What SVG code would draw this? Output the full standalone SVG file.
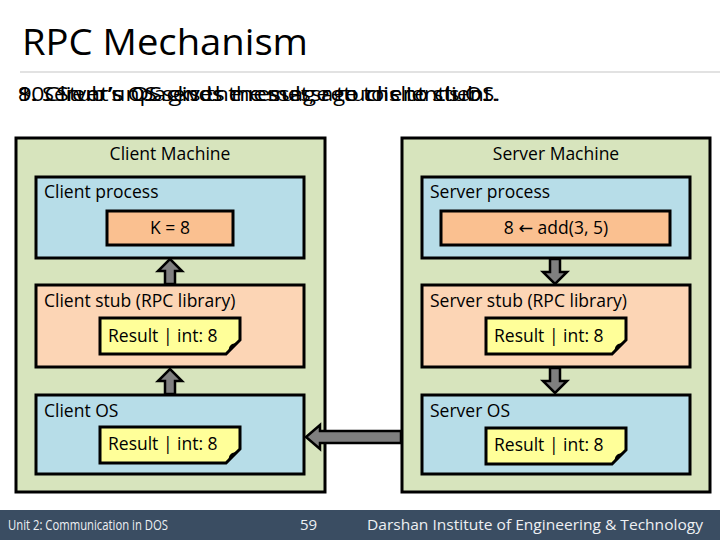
<svg xmlns="http://www.w3.org/2000/svg" width="720" height="540" viewBox="0 0 720 540">
<defs>
<style>
.t{font-family:"Open Sans","Liberation Sans",sans-serif;fill:#000}
.machine{fill:#d7e4bd;stroke:#000;stroke-width:3}
.blue{fill:#b7dde8;stroke:#000;stroke-width:3}
.peach{fill:#fcd5b5;stroke:#000;stroke-width:3}
.orange{fill:#fac090;stroke:#000;stroke-width:3}
.note{fill:#ffff99;stroke:#000;stroke-width:3;stroke-linejoin:miter}
.fold{fill:#000}
.arrow{fill:#7f7f7f;stroke:#000;stroke-width:2.5;stroke-linejoin:miter}
.lbl{font-size:17.5px}
.foot{font-family:"Open Sans","Liberation Sans",sans-serif;fill:#eef0f3;font-size:15px}
</style>
</defs>
<rect x="0" y="0" width="720" height="540" fill="#fff"/>
<text class="t" x="22" y="55" font-size="36" textLength="286" lengthAdjust="spacingAndGlyphs">RPC Mechanism</text>
<line x1="20" y1="72" x2="720" y2="72" stroke="#d9d9d9" stroke-width="1.5"/>
<g id="steps" class="t" font-size="20">
<text x="18" y="101" textLength="482" lengthAdjust="spacingAndGlyphs">8.   Server’s OS sends the message to client’s OS.</text>
<text x="18" y="101" textLength="470" lengthAdjust="spacingAndGlyphs">9.   Client’s OS gives message to client stub.</text>
<text x="18" y="101" textLength="480" lengthAdjust="spacingAndGlyphs">10. Stub unpacks the result, returns to client.</text>
</g>
<g id="client-machine">
<rect class="machine" x="16" y="138" width="309" height="354"/>
<text class="t lbl" x="170" y="160" text-anchor="middle">Client Machine</text>
</g>
<g id="server-machine">
<rect class="machine" x="402" y="138" width="308" height="354"/>
<text class="t lbl" x="556" y="160" text-anchor="middle">Server Machine</text>
</g>
<g id="client-process">
<rect class="blue" x="36" y="177" width="268" height="81"/>
<text class="t lbl" x="44" y="198">Client process</text>
</g>
<g id="client-k">
<rect class="orange" x="107" y="211" width="126" height="34"/>
<text class="t lbl" x="170" y="234" text-anchor="middle">K = 8</text>
</g>
<g id="client-stub">
<rect class="peach" x="36" y="285" width="268" height="82"/>
<text class="t lbl" x="44" y="307">Client stub (RPC library)</text>
</g>
<g id="client-stub-note">
<path class="note" d="M100,318 H240 V340 L226,354 H100 Z"/>
<path class="fold" d="M226,354 L240,340 C236,344 232,343 230,346 C228,348 230,351 226,354 Z"/>
<text class="t lbl" x="108" y="342">Result | int: 8</text>
</g>
<g id="client-os">
<rect class="blue" x="36" y="395" width="268" height="79"/>
<text class="t lbl" x="44" y="417">Client OS</text>
</g>
<g id="client-os-note">
<path class="note" d="M100,427 H240 V449 L226,463 H100 Z"/>
<path class="fold" d="M226,463 L240,449 C236,453 232,452 230,455 C228,457 230,460 226,463 Z"/>
<text class="t lbl" x="108" y="450">Result | int: 8</text>
</g>
<g id="server-process">
<rect class="blue" x="422" y="177" width="268" height="81"/>
<text class="t lbl" x="430" y="198">Server process</text>
</g>
<g id="server-add">
<rect class="orange" x="441" y="211" width="229" height="34"/>
<text class="t lbl" x="556" y="234" text-anchor="middle">8 <tspan font-family="DejaVu Sans, sans-serif">←</tspan> add(3, 5)</text>
</g>
<g id="server-stub">
<rect class="peach" x="422" y="285" width="268" height="82"/>
<text class="t lbl" x="430" y="307">Server stub (RPC library)</text>
</g>
<g id="server-stub-note">
<path class="note" d="M486,318 H626 V340 L612,354 H486 Z"/>
<path class="fold" d="M612,354 L626,340 C622,344 618,343 616,346 C614,348 616,351 612,354 Z"/>
<text class="t lbl" x="494" y="342">Result | int: 8</text>
</g>
<g id="server-os">
<rect class="blue" x="422" y="395" width="268" height="79"/>
<text class="t lbl" x="430" y="417">Server OS</text>
</g>
<g id="server-os-note">
<path class="note" d="M486,428 H626 V450 L612,464 H486 Z"/>
<path class="fold" d="M612,464 L626,450 C622,454 618,453 616,456 C614,458 616,461 612,464 Z"/>
<text class="t lbl" x="494" y="451">Result | int: 8</text>
</g>
<g id="connectors">
<path class="arrow" d="M165,284 V271 H158 L170,259 L182,271 H175 V284 Z"/>
<path class="arrow" d="M165,394 V381 H158 L170,369 L182,381 H175 V394 Z"/>
<path class="arrow" d="M550,259 V272 H543 L555,284 L567,272 H560 V259 Z"/>
<path class="arrow" d="M550,368 V381 H543 L555,393 L567,381 H560 V368 Z"/>
<path class="arrow" d="M401,431 H320 V425 L306,437 L320,449 V443 H401 Z"/>
</g>
<g id="footer">
<rect x="0" y="510" width="720" height="30" fill="#3a4d62"/>
<text class="foot" x="8" y="530" textLength="160" lengthAdjust="spacingAndGlyphs">Unit 2: Communication in DOS</text>
<text class="foot" x="300" y="530">59</text>
<text class="foot" x="367" y="530" textLength="336" lengthAdjust="spacingAndGlyphs">Darshan Institute of Engineering &amp; Technology</text>
</g>
</svg>
